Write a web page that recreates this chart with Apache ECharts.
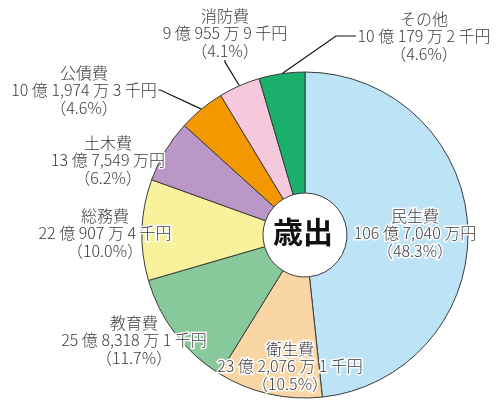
<!DOCTYPE html>
<html lang="ja">
<head>
    <meta charset="UTF-8">
    <title>歳出</title>
    <script type="text/javascript" src="https://cdn.jsdelivr.net/npm/echarts@6/dist/echarts.min.js"></script>
    <style>
        html, body { margin: 0; padding: 0; background: #fff; }
    </style>
</head>
<body>

    <div id="chart" style="width:500px;height:405px;"></div>

<script type="text/javascript">

    // 歳出の内訳 (単位: 万円)
    var categories = ['民生費', '衛生費', '教育費', '総務費', '土木費', '公債費', '消防費', 'その他'];
    var values = [1067040, 232076.1, 258318.1, 220907.4, 137549, 101974.3, 90955.9, 100179.2];
    var amountText = [
        '106 億 7,040 万円',
        '23 億 2,076 万 1 千円',
        '25 億 8,318 万 1 千円',
        '22 億 907 万 4 千円',
        '13 億 7,549 万円',
        '10 億 1,974 万 3 千円',
        '9 億 955 万 9 千円',
        '10 億 179 万 2 千円'
    ];
    var percents = ['48.3', '10.5', '11.7', '10.0', '6.2', '4.6', '4.1', '4.6'];

    var colors = ['#bde3f6', '#fad6a5', '#88c99b', '#f8f29c', '#ba97c7', '#f39800', '#f6c8dc', '#1aaf6a'];
    // label centre positions (pixels)
    var labelPos = [
        [415, 233], [290, 366], [134, 340], [105, 233],
        [108, 160], [84, 90], [225, 33], [424, 36]
    ];
    var withLine = [false, false, false, false, false, true, true, true];
    var lineLen2 = [0, 0, 0, 0, 0, 2, 2, 20];

    var dom = document.getElementById("chart");
    var myChart = echarts.init(dom);

    var data = categories.map(function (name, i) {
        return {
            name: name,
            value: values[i],
            itemStyle: { color: colors[i] },
            label: { position: withLine[i] ? 'outside' : 'inside' },
            labelLine: { show: withLine[i], length: 15, length2: lineLen2[i] }
        };
    });

    var option = {
        animation: false,
        series: [{
            type: 'pie',
            center: [305, 235],
            radius: [42, 163],
            startAngle: 90,
            clockwise: true,
            avoidLabelOverlap: false,
            itemStyle: {
                borderColor: '#3a3a3a',
                borderWidth: 1
            },
            label: {
                show: true,
                formatter: function (p) {
                    var i = p.dataIndex;
                    return categories[i] + '\n' + amountText[i] + '\n（' + percents[i] + '%）';
                },
                color: '#3a3a3a',
                fontFamily: '"Noto Sans CJK JP", sans-serif',
                fontWeight: 300,
                fontSize: 16,
                lineHeight: 17.5,
                align: 'center',
                textBorderColor: '#fff',
                textBorderWidth: 3
            },
            labelLine: {
                lineStyle: { color: '#111', width: 1.2 }
            },
            labelLayout: function (params) {
                var pos = labelPos[params.dataIndex];
                return {
                    x: pos[0],
                    y: pos[1],
                    align: 'center',
                    verticalAlign: 'middle'
                };
            },
            data: data
        }],
        graphic: [{
            type: 'text',
            left: 303 - 30,
            top: 236 - 19,
            style: {
                text: '歳出',
                fill: '#111',
                font: 'bold 30px "Noto Sans CJK JP", sans-serif'
            }
        }]
    };

    if (option && typeof option === "object") {
        myChart.setOption(option, true);
    }

</script>

</body>
</html>
